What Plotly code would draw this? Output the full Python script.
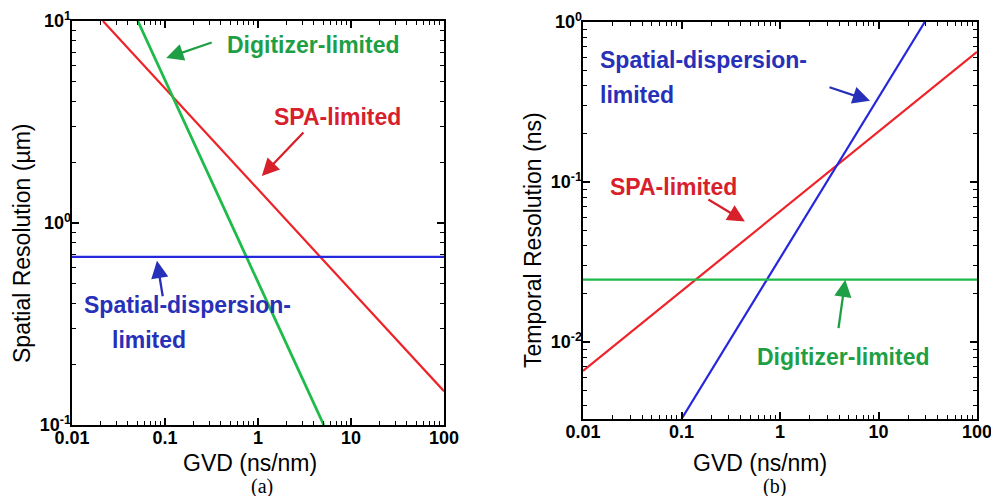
import math
import plotly.graph_objects as go

# ---------------- data ----------------
# Panel (a): spatial resolution (um) vs GVD (ns/nm)
gvd_a_spa = [0.0215, 100]
res_a_spa = [10.0, 0.147]
gvd_a_dig = [0.051, 5.1]
res_a_dig = [10.0, 0.1]
gvd_a_sd = [0.01, 100]
res_a_sd = [0.68, 0.68]

# Panel (b): temporal resolution (ns) vs GVD (ns/nm)
gvd_b_spa = [0.01, 100]
res_b_spa = [0.0066, 0.65]
gvd_b_sd = [0.1, 29.5]
res_b_sd = [0.0033, 1.0]
gvd_b_dig = [0.01, 100]
res_b_dig = [0.0245, 0.0245]

x_tickvals = [0.01, 0.1, 1, 10, 100]
x_ticktext = ["0.01", "0.1", "1", "10", "100"]
ya_tickvals = [0.1, 1, 10]
ya_ticktext = ["10<sup>-1</sup>", "10<sup>0</sup>", "10<sup>1</sup>"]
yb_tickvals = [0.01, 0.1, 1]
yb_ticktext = ["10<sup>-2</sup>", "10<sup>-1</sup>", "10<sup>0</sup>"]

RED = "#ee2228"
GREEN = "#1fbb4a"
BLUE = "#2626dd"
RED_T = "#d8202c"
GREEN_T = "#1f9f45"
BLUE_T = "#2630b8"
FONT = "Liberation Sans, Arial, sans-serif"

W, H = 991, 496
def px(x):
    return x / W
def py(y):
    return 1 - y / H

fig = go.Figure()
lw = 2.2
fig.add_trace(go.Scatter(x=gvd_a_spa, y=res_a_spa, mode="lines", line=dict(color=RED, width=lw), xaxis="x", yaxis="y"))
fig.add_trace(go.Scatter(x=gvd_a_dig, y=res_a_dig, mode="lines", line=dict(color=GREEN, width=lw + 0.6), xaxis="x", yaxis="y"))
fig.add_trace(go.Scatter(x=gvd_a_sd, y=res_a_sd, mode="lines", line=dict(color=BLUE, width=lw), xaxis="x", yaxis="y"))
fig.add_trace(go.Scatter(x=gvd_b_spa, y=res_b_spa, mode="lines", line=dict(color=RED, width=lw), xaxis="x2", yaxis="y2"))
fig.add_trace(go.Scatter(x=gvd_b_sd, y=res_b_sd, mode="lines", line=dict(color=BLUE, width=lw), xaxis="x2", yaxis="y2"))
fig.add_trace(go.Scatter(x=gvd_b_dig, y=res_b_dig, mode="lines", line=dict(color=GREEN, width=lw), xaxis="x2", yaxis="y2"))

# frame axes: ticks only (decade majors + 2..9 minors), no labels
def frame_axis(domain, anchor, rng):
    return dict(
        type="log", showgrid=False, zeroline=False, showline=True, linecolor="black",
        linewidth=2, mirror="allticks", ticks="inside", ticklen=7, tickwidth=1.6,
        tickcolor="black", automargin=False, showticklabels=False,
        tickmode="linear", tick0=0, dtick=1,
        domain=domain, anchor=anchor, range=rng,
        minor=dict(ticks="inside", dtick="D1", ticklen=4, tickwidth=1.2,
                   tickcolor="black", showgrid=False),
    )

# label axes: overlaid, labels only
def label_axis(overlay, anchor, side, rng, tv, tt):
    return dict(
        type="log", overlaying=overlay, anchor=anchor, side=side, range=rng,
        showgrid=False, zeroline=False, showline=False, ticks="",
        automargin=False, ticklabeloverflow="allow", fixedrange=True,
        tickfont=dict(family=FONT, size=18, color="black", weight="bold"),
        tickmode="array", tickvals=tv, ticktext=tt,
    )

xa_dom = [px(72), px(444)]
ya_dom = [py(425), py(21)]
xb_dom = [px(583), px(977)]
yb_dom = [py(419), py(22)]
xr = [-2, 2]
yar = [-1, 1]
ybr = [math.log10(0.0033), 0]

x3 = label_axis("x", "y", "bottom", xr, x_tickvals, x_ticktext); x3["domain"] = xa_dom
y3 = label_axis("y", "x", "left", yar, ya_tickvals, ya_ticktext); y3["domain"] = ya_dom
x4 = label_axis("x2", "y2", "bottom", xr, x_tickvals, x_ticktext); x4["domain"] = xb_dom
y4 = label_axis("y2", "x2", "left", ybr, yb_tickvals, yb_ticktext); y4["domain"] = yb_dom

fig.update_layout(
    width=W, height=H, margin=dict(l=0, r=0, t=0, b=0),
    paper_bgcolor="white", plot_bgcolor="white", showlegend=False,
    xaxis=frame_axis(xa_dom, "y", xr),
    yaxis=frame_axis(ya_dom, "x", yar),
    xaxis2=frame_axis(xb_dom, "y2", xr),
    yaxis2=frame_axis(yb_dom, "x2", ybr),
    xaxis3=x3, yaxis3=y3, xaxis4=x4, yaxis4=y4,
)
# invisible helper traces so the label axes are drawn
fig.add_trace(go.Scatter(x=x_tickvals, y=[1, 1, 1, 1, 1], mode="markers", opacity=0,
                         hoverinfo="skip", xaxis="x3", yaxis="y3"))
fig.add_trace(go.Scatter(x=x_tickvals, y=[0.1, 0.1, 0.1, 0.1, 0.1], mode="markers", opacity=0,
                         hoverinfo="skip", xaxis="x4", yaxis="y4"))

ann = []
def text(x, y, s, color, size=23, xanchor="center", bold=True, family=FONT):
    ann.append(dict(xref="paper", yref="paper", x=px(x), y=py(y), text=s,
                    showarrow=False, xanchor=xanchor, yanchor="middle",
                    font=dict(family=family, size=size, color=color,
                              weight="bold" if bold else "normal")))

def arrow(xr_, yr_, xv, yv, ax, ay, color):
    ann.append(dict(xref=xr_, yref=yr_, x=math.log10(xv), y=math.log10(yv), ax=ax, ay=ay,
                    text="", showarrow=True, arrowhead=2, arrowsize=1.5,
                    arrowwidth=2.3, arrowcolor=color))

# Panel (a) labels
text(313, 45, "Digitizer-limited", GREEN_T)
arrow("x", "y", 0.103, 6.56, 47, -16, GREEN_T)
text(337, 117, "SPA-limited", RED_T)
arrow("x", "y", 1.1, 1.71, 43, -45, RED_T)
text(82, 305, "Spatial-dispersion-", BLUE_T, xanchor="left")
text(110, 340, "limited", BLUE_T, xanchor="left")
arrow("x", "y", 0.082, 0.65, 6, 37, BLUE_T)

# Panel (b) labels
text(598, 60, "Spatial-dispersion-", BLUE_T, xanchor="left")
text(598, 95, "limited", BLUE_T, xanchor="left")
arrow("x2", "y2", 8.2, 0.322, -42, -14, BLUE_T)
text(608, 187, "SPA-limited", RED_T, xanchor="left")
arrow("x2", "y2", 0.44, 0.0566, -38, -23, RED_T)
text(755, 357, "Digitizer-limited", GREEN_T, xanchor="left")
arrow("x2", "y2", 4.6, 0.0245, -7, 50, GREEN_T)

# Axis titles
text(250, 463, "GVD (ns/nm)", "black", size=23, bold=False)
text(760, 463, "GVD (ns/nm)", "black", size=23, bold=False)
text(262, 486, "(a)", "black", size=20, bold=False, family="Liberation Serif, Times New Roman, serif")
text(774, 486, "(b)", "black", size=20, bold=False, family="Liberation Serif, Times New Roman, serif")
ann.append(dict(xref="paper", yref="paper", x=px(22), y=py(243), text="Spatial Resolution (\u00b5m)",
                showarrow=False, textangle=-90, xanchor="center", yanchor="middle",
                font=dict(family=FONT, size=23, color="black")))
ann.append(dict(xref="paper", yref="paper", x=px(533), y=py(240), text="Temporal Resolution (ns)",
                showarrow=False, textangle=-90, xanchor="center", yanchor="middle",
                font=dict(family=FONT, size=23, color="black")))

fig.update_layout(annotations=ann)
fig.write_html("out.html")
